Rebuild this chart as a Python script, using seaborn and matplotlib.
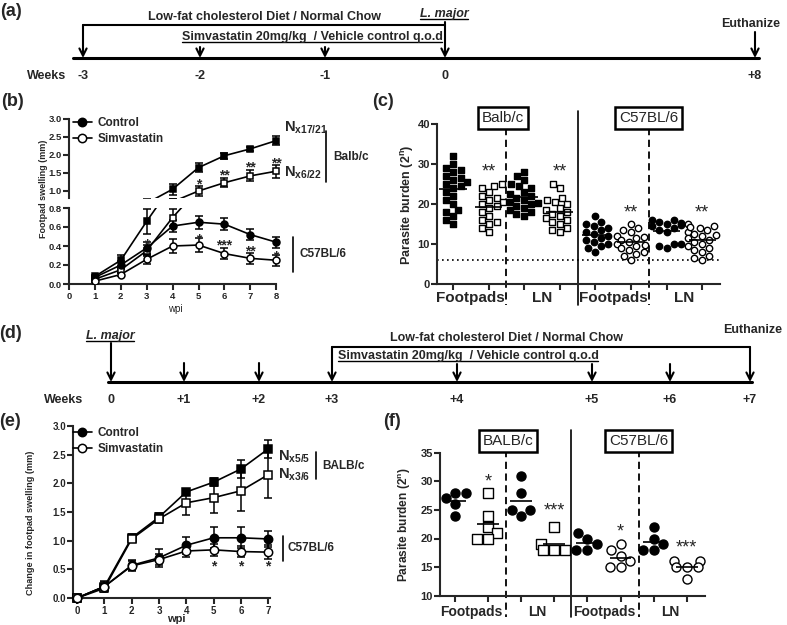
import matplotlib
matplotlib.use("Agg")
import matplotlib.pyplot as plt
from matplotlib.lines import Line2D
import seaborn as sns
import numpy as np
import pandas as pd

# ---- panel (b): footpad swelling, pre-treated ----
b_wpi = [1, 2, 3, 4, 5, 6, 7, 8]
b_balb_ctrl = [0.08, 0.25, 0.66, 1.05, 1.65, 1.98, 2.17, 2.40]
b_balb_ctrl_err = [0.02, 0.06, 0.13, 0.15, 0.12, 0.08, 0.06, 0.12]
b_balb_simva = [0.05, 0.15, 0.35, 0.70, 1.00, 1.23, 1.42, 1.55]
b_balb_simva_err = [0.01, 0.03, 0.06, 0.09, 0.14, 0.13, 0.15, 0.18]
b_c57_ctrl = [0.07, 0.20, 0.38, 0.61, 0.65, 0.63, 0.52, 0.44]
b_c57_ctrl_err = [0.01, 0.04, 0.06, 0.06, 0.07, 0.06, 0.06, 0.06]
b_c57_simva = [0.03, 0.10, 0.26, 0.40, 0.41, 0.32, 0.27, 0.25]
b_c57_simva_err = [0.01, 0.02, 0.05, 0.07, 0.07, 0.06, 0.06, 0.06]

# ---- panel (c): parasite burden, pre-treated ----
c_balb_fp_ctrl = [32, 30, 29, 28.5, 28, 27, 26.5, 26, 25.5, 25, 24.5, 24, 23, 22, 21, 20, 18.5, 18, 17, 16, 15]
c_balb_fp_simva = [25, 24.5, 24, 23, 22, 21.5, 21, 20.5, 20, 19.5, 19, 18, 17, 16, 15.5, 15, 14, 13]
c_balb_ln_ctrl = [28, 27, 26, 25, 24.5, 24, 23, 22.5, 22, 21.5, 21, 20.5, 20, 19.5, 19, 18.5, 18, 17.5, 17, 20.2]
c_balb_ln_simva = [25, 24, 21.5, 21, 20.5, 20, 19, 18.5, 18, 17.5, 17, 16.5, 16, 15.5, 15, 14, 13.5, 13]
c_c57_fp_ctrl = [17, 15.5, 15, 14.5, 14, 13.5, 13, 12.5, 12, 11, 10.5, 10, 9.5, 9, 8, 11.5]
c_c57_fp_simva = [15, 14, 13.5, 13, 12, 11.5, 11, 10.5, 10, 9.8, 9.5, 9, 8.5, 8, 7.5, 7, 6, 11.8]
c_c57_ln_ctrl = [16, 16, 15.5, 15, 14.8, 14.5, 14, 13.5, 13, 10, 10, 9.5, 9, 15.2]
c_c57_ln_simva = [15, 14.5, 14, 13.5, 13, 12.5, 12, 11.5, 11, 10.5, 10, 9.5, 9, 8.5, 8, 7, 6.5, 6, 14.2, 12.2]
c_stars = ["", "**", "", "**", "", "**", "", "**"]
c_star_y = [0, 28.0, 0, 28.0, 0, 17.8, 0, 17.8]

# ---- panel (e): footpad swelling, post-infection treatment ----
e_wpi = [0, 1, 2, 3, 4, 5, 6, 7]
e_balb_ctrl = [0, 0.20, 1.05, 1.41, 1.85, 2.02, 2.25, 2.60]
e_balb_ctrl_err = [0, 0.05, 0.06, 0.08, 0.04, 0.07, 0.15, 0.15]
e_balb_simva = [0, 0.17, 1.03, 1.38, 1.66, 1.75, 1.87, 2.15]
e_balb_simva_err = [0, 0.05, 0.05, 0.08, 0.22, 0.27, 0.35, 0.40]
e_c57_ctrl = [0, 0.20, 0.57, 0.70, 0.92, 1.05, 1.05, 1.03]
e_c57_ctrl_err = [0, 0.10, 0.10, 0.16, 0.15, 0.18, 0.18, 0.14]
e_c57_simva = [0, 0.20, 0.56, 0.67, 0.82, 0.84, 0.81, 0.80]
e_c57_simva_err = [0, 0.08, 0.08, 0.10, 0.10, 0.10, 0.10, 0.12]

# ---- panel (f): parasite burden, post-infection treatment ----
f_balb_fp_ctrl = [28, 28, 27, 26, 24]
f_balb_fp_simva = [28, 24, 22, 21, 20, 20]
f_balb_ln_ctrl = [31, 28, 25, 25, 24]
f_balb_ln_simva = [22, 19, 18, 18, 18]
f_c57_fp_ctrl = [21, 20, 19, 18, 18]
f_c57_fp_simva = [19, 18, 17, 16, 15, 15]
f_c57_ln_ctrl = [22, 20, 19, 18, 18]
f_c57_ln_simva = [16, 16, 15, 15, 15, 13]
f_stars = ["", "*", "", "***", "", "*", "", "***"]
f_star_y = [0, 29.8, 0, 24.8, 0, 21.2, 0, 18.3]

group_names = ["BFP-C", "BFP-S", "BLN-C", "BLN-S", "CFP-C", "CFP-S", "CLN-C", "CLN-S"]
site_labels = ["Footpads", "LN", "Footpads", "LN"]

# ---- timelines ----
a_weeks = ["-3", "-2", "-1", "0", "+8"]
d_weeks = ["0", "+1", "+2", "+3", "+4", "+5", "+6", "+7"]

W, H = 787, 625
sns.set_style("ticks")
plt.rcParams["font.family"] = ["Liberation Sans", "DejaVu Sans"]
plt.rcParams["mathtext.fontset"] = "custom"
plt.rcParams["mathtext.rm"] = "Liberation Sans"
plt.rcParams["mathtext.bf"] = "Liberation Sans:bold"
plt.rcParams["axes.linewidth"] = 1.5
plt.rcParams["xtick.major.width"] = 1.5
plt.rcParams["ytick.major.width"] = 1.5
plt.rcParams["xtick.major.size"] = 4
plt.rcParams["ytick.major.size"] = 4
plt.rcParams["xtick.major.pad"] = 1.5
plt.rcParams["ytick.major.pad"] = 1
plt.rcParams["axes.unicode_minus"] = False

fig = plt.figure(figsize=(W / 100, H / 100), dpi=100)
NARROW = ["Liberation Sans Narrow", "Liberation Sans"]


def px_axes(x0, y0, x1, y1):
    return fig.add_axes([x0 / W, 1 - y1 / H, (x1 - x0) / W, (y1 - y0) / H])


def bold_ticks(ax, size):
    ax.tick_params(labelsize=size)
    for lbl in ax.get_xticklabels() + ax.get_yticklabels():
        lbl.set_fontweight("bold")


def swelling(ax, x, y, err, marker, filled, ms, clip=True):
    fc = "black" if filled else "white"
    eb = ax.errorbar(x, y, yerr=err, fmt="none", ecolor="black", elinewidth=1.1,
                     capsize=3, capthick=1.1, zorder=2)
    for art in eb.lines[1] + eb.lines[2]:
        art.set_clip_on(clip)
    sns.lineplot(x=x, y=y, ax=ax, color="black", lw=1.2, marker=marker, markersize=ms,
                 markerfacecolor=fc, markeredgecolor="black", markeredgewidth=1.1,
                 legend=False, zorder=3, clip_on=clip)


def burden(ax, groups, markers, filled, size, half):
    rows = []
    for name, vals in zip(group_names, groups):
        rows += [(name, v) for v in vals]
    df = pd.DataFrame(rows, columns=["group", "burden"])
    for i, name in enumerate(group_names):
        sub = df[df["group"] == name]
        fc = "black" if filled[i] else "white"
        sns.swarmplot(data=sub, x="group", y="burden", order=group_names, ax=ax,
                      marker=markers[i], color=fc, edgecolor="black", linewidth=1,
                      size=size, warn_thresh=1)
        m = np.mean(groups[i])
        ax.hlines(m, i - half, i + half, color="black", lw=1.2, zorder=5)
    ax.set_xlabel("")
    ax.set_ylabel("")
    ax.set_xticks(range(8))
    ax.set_xticklabels([])


c_markers = ["s", "s", "s", "s", "o", "o", "o", "o"]
c_filled = [True, False, True, False, True, False, True, False]

# ---- (b) broken axis ----
b_up = px_axes(69, 119, 69 + 8.3 * 25.9, 198.2)
b_lo = px_axes(69, 208, 69 + 8.3 * 25.9, 284)
series_b = [(b_balb_ctrl, b_balb_ctrl_err, "s", True), (b_balb_simva, b_balb_simva_err, "s", False),
            (b_c57_ctrl, b_c57_ctrl_err, "o", True), (b_c57_simva, b_c57_simva_err, "o", False)]
for ax in (b_up, b_lo):
    for y, e, mk, fl in series_b:
        swelling(ax, b_wpi, y, e, mk, fl, 5)
    ax.set_xlim(0, 8.3)
    ax.set_xlabel("")
    ax.set_ylabel("")
    sns.despine(ax=ax)
b_up.set_ylim(0.8, 3.0)
b_up.set_yticks([1.0, 1.5, 2.0, 2.5, 3.0])
b_up.spines["bottom"].set_visible(False)
b_up.tick_params(axis="x", bottom=False, labelbottom=False)
b_lo.set_ylim(0, 0.8)
b_lo.set_yticks([0.0, 0.2, 0.4, 0.6, 0.8])
b_lo.set_xticks(range(9))
b_lo.spines["bottom"].set_bounds(0, 8)
for ax in (b_up, b_lo):
    ax.yaxis.set_major_formatter(matplotlib.ticker.FormatStrFormatter("%.1f"))
    bold_ticks(ax, 6.8)
star_kw = dict(ha="center", va="center", fontsize=10, fontweight="bold")
for xx, yy, s in [(3, 0.42, "*"), (5, 0.47, "*"), (6, 0.41, "***"), (7, 0.34, "**"), (8, 0.29, "*")]:
    b_lo.text(xx, yy, s, **star_kw)
for xx, yy, s in [(5, 1.18, "*"), (6, 1.42, "**"), (7, 1.64, "**"), (8, 1.77, "**")]:
    b_up.text(xx, yy, s, **star_kw)

# ---- (c) ----
ax_c = px_axes(437, 124, 720, 284)
burden(ax_c, [c_balb_fp_ctrl, c_balb_fp_simva, c_balb_ln_ctrl, c_balb_ln_simva,
              c_c57_fp_ctrl, c_c57_fp_simva, c_c57_ln_ctrl, c_c57_ln_simva],
       c_markers, c_filled, 4.6, 0.38)
ax_c.set_xlim(-0.45, 7.5)
ax_c.set_ylim(0, 40)
ax_c.set_yticks([0, 10, 20, 30, 40])
sns.despine(ax=ax_c)
bold_ticks(ax_c, 8)
ax_c.axhline(6, color="black", lw=1.2, ls=(0, (1, 2)), zorder=1)
ax_c.plot([1.5, 1.5], [39, -5.3], color="black", lw=1.3, ls=(0, (4, 2.5)), clip_on=False)
ax_c.plot([5.5, 5.5], [39, -5.3], color="black", lw=1.3, ls=(0, (4, 2.5)), clip_on=False)
ax_c.plot([3.5, 3.5], [43.3, -5.3], color="black", lw=1.2, clip_on=False)
box = dict(boxstyle="square,pad=0.25", fc="white", ec="black", lw=1.8)
ax_c.text(1.4, 41.5, "Balb/c", ha="center", va="center", fontsize=11, bbox=box, clip_on=False)
ax_c.text(5.5, 41.5, "C57BL/6", ha="center", va="center", fontsize=11, bbox=box, clip_on=False)
for i, lab in enumerate(site_labels):
    ax_c.text(2 * i + 0.5, -3.6, lab, ha="center", va="center", fontsize=11,
              fontweight="bold", clip_on=False)
for i, s in enumerate(c_stars):
    if s:
        ax_c.text(i, c_star_y[i], s, ha="center", va="center", fontsize=13)

# ---- (e) ----
ax_e = px_axes(73, 426, 73 + 7.55 * 27.3, 598)
for y, e, mk, fl in [(e_balb_ctrl, e_balb_ctrl_err, "s", True), (e_balb_simva, e_balb_simva_err, "s", False),
                     (e_c57_ctrl, e_c57_ctrl_err, "o", True), (e_c57_simva, e_c57_simva_err, "o", False)]:
    swelling(ax_e, e_wpi, y, e, mk, fl, 6, clip=False)
ax_e.set_xlim(-0.15, 7.4)
ax_e.set_ylim(0, 3.0)
ax_e.set_xticks(range(8))
ax_e.set_yticks([0.0, 0.5, 1.0, 1.5, 2.0, 2.5, 3.0])
ax_e.yaxis.set_major_formatter(matplotlib.ticker.FormatStrFormatter("%.1f"))
sns.despine(ax=ax_e)
ax_e.spines["bottom"].set_bounds(-0.15, 7.05)
ax_e.set_ylabel("")
ax_e.set_xlabel("wpi", fontsize=8, fontweight="bold", labelpad=-1)
bold_ticks(ax_e, 7)
for xx in (5, 6, 7):
    ax_e.text(xx, 0.55, "*", **star_kw)

# ---- (f) ----
ax_f = px_axes(440, 452.7, 705, 595.7)
burden(ax_f, [f_balb_fp_ctrl, f_balb_fp_simva, f_balb_ln_ctrl, f_balb_ln_simva,
              f_c57_fp_ctrl, f_c57_fp_simva, f_c57_ln_ctrl, f_c57_ln_simva],
       ["o", "s", "o", "s", "o", "o", "o", "o"], c_filled, 6.5, 0.33)
ax_f.set_xlim(-0.45, 7.55)
ax_f.set_ylim(10, 35)
ax_f.set_yticks([10, 15, 20, 25, 30, 35])
sns.despine(ax=ax_f)
bold_ticks(ax_f, 8)
ax_f.plot([1.55, 1.55], [35.5, 6.3], color="black", lw=1.3, ls=(0, (4, 2.5)), clip_on=False)
ax_f.plot([5.55, 5.55], [35.5, 6.3], color="black", lw=1.3, ls=(0, (4, 2.5)), clip_on=False)
ax_f.plot([3.5, 3.5], [39, 6.3], color="black", lw=1.2, clip_on=False)
ax_f.text(1.6, 37.0, "BALB/c", ha="center", va="center", fontsize=11, bbox=box, clip_on=False)
ax_f.text(5.55, 37.0, "C57BL/6", ha="center", va="center", fontsize=11, bbox=box, clip_on=False)
for i, lab in enumerate(site_labels):
    ax_f.text(2 * i + 0.5, 7.2, lab, ha="center", va="center", fontsize=10,
              fontweight="bold", clip_on=False)
for i, s in enumerate(f_stars):
    if s:
        ax_f.text(i, f_star_y[i], s, ha="center", va="center", fontsize=13)

# ---- overlay in pixel coords: timelines, labels, annotations ----
ov = fig.add_axes([0, 0, 1, 1])
ov.set_xlim(0, W)
ov.set_ylim(H, 0)
ov.axis("off")
ov.patch.set_alpha(0)

arr = dict(arrowstyle="->", lw=1.5, color="black", mutation_scale=13, shrinkA=0, shrinkB=0)
tl_kw = dict(fontsize=9, family=NARROW, ha="center", va="center")
under = []

# timeline (a)
a_x = [83, 200, 325, 445, 755]
a_top = [25, 47, 47, 22, 32]
ov.plot([73, 759], [58, 58], color="black", lw=2.2)
ov.plot([83, 445], [25, 25], color="black", lw=1.5)
for xx, tp, wk in zip(a_x, a_top, a_weeks):
    ov.annotate("", xy=(xx, 58), xytext=(xx, tp), arrowprops=arr)
    ov.text(xx, 76, wk, fontweight="bold", **tl_kw)
ov.text(47, 76, "Weeks", fontweight="bold", **tl_kw)
ov.text(264, 17, "Low-fat cholesterol Diet / Normal Chow", fontweight="bold", **tl_kw)
ov.text(751, 24, "Euthanize", fontweight="bold", **tl_kw)
under.append(ov.text(444, 14, "L. major", fontweight="bold", style="italic", **tl_kw))
under.append(ov.text(312, 37, "Simvastatin 20mg/kg  / Vehicle control q.o.d", fontweight="bold", **tl_kw))

# timeline (d)
d_x = [111, 184, 259, 332, 457, 592, 670, 750]
d_top = [343, 363, 363, 347, 364, 364, 364, 347]
ov.plot([108, 752], [382, 382], color="black", lw=2.2)
ov.plot([332, 750], [347, 347], color="black", lw=1.5)
for xx, tp, wk in zip(d_x, d_top, d_weeks):
    ov.annotate("", xy=(xx, 382), xytext=(xx, tp), arrowprops=arr)
    ov.text(xx, 400, wk, fontweight="bold", **tl_kw)
ov.text(64, 400, "Weeks", fontweight="bold", **tl_kw)
ov.text(506, 338, "Low-fat cholesterol Diet / Normal Chow", fontweight="bold", **tl_kw)
ov.text(753, 330, "Euthanize", fontweight="bold", **tl_kw)
under.append(ov.text(110, 336, "L. major", fontweight="bold", style="italic", **tl_kw))
under.append(ov.text(468, 356, "Simvastatin 20mg/kg  / Vehicle control q.o.d", fontweight="bold", **tl_kw))

# panel letters
for lab, xx, yy in [("(a)", 11, 12), ("(b)", 12, 101), ("(c)", 383, 101),
                    ("(d)", 10, 333), ("(e)", 10, 421), ("(f)", 392, 421)]:
    ov.text(xx, yy, lab, fontsize=13, fontweight="bold", ha="center", va="center", family=NARROW)

# y labels
ov.text(43, 189, "Footpad swelling (mm)", rotation=90, fontsize=6.5, fontweight="bold", ha="center", va="center")
ov.text(407, 205, "Parasite burden (2$^\\mathbf{n}$)", rotation=90, fontsize=9, fontweight="bold", ha="center", va="center")
ov.text(31, 523, "Change in footpad swelling (mm)", rotation=90, fontsize=6.6, fontweight="bold", ha="center", va="center")
ov.text(405, 525, "Parasite burden (2$^\\mathbf{n}$)", rotation=90, fontsize=8.6, fontweight="bold", ha="center", va="center")
ov.text(175, 309, "wpi", fontsize=7, ha="center", va="center")

# group brackets (b)
ann = dict(fontsize=8.5, fontweight="bold", ha="left", va="center")
ov.text(284, 128, r"$\mathbf{N_{x17/21}}$", fontsize=10.5, ha="left", va="center")
ov.text(284, 173, r"$\mathbf{N_{x6/22}}$", fontsize=10.5, ha="left", va="center")
ov.plot([326, 326], [131, 182], color="black", lw=1.2)
ov.text(333, 157, "Balb/c", **ann)
ov.plot([293, 293], [237, 272], color="black", lw=1.2)
ov.text(300, 254, "C57BL/6", **ann)

# group brackets (e)
ov.text(278, 457, r"$\mathbf{N_{x5/5}}$", fontsize=10.5, ha="left", va="center")
ov.text(278, 475, r"$\mathbf{N_{x3/6}}$", fontsize=10.5, ha="left", va="center")
ov.plot([316, 316], [452, 479], color="black", lw=1.2)
ov.text(322, 466, "BALB/c", **ann)
ov.plot([283, 283], [536, 561], color="black", lw=1.2)
ov.text(288, 548, "C57BL/6", **ann)

# legends
handles = [Line2D([], [], color="black", lw=1.2, marker="o", markersize=6, markerfacecolor="black", markeredgewidth=1.1),
           Line2D([], [], color="black", lw=1.2, marker="o", markersize=6, markerfacecolor="white", markeredgewidth=1.1)]
for top in (117, 427):
    fig.legend(handles, ["Control", "Simvastatin"], loc="upper left",
               bbox_to_anchor=(73 / W, 1 - top / H), frameon=False, handlelength=1.6,
               handletextpad=0.5, labelspacing=0.35, borderaxespad=0, borderpad=0,
               prop={"weight": "bold", "size": 8.5})

# underline the timeline labels
fig.canvas.draw()
rend = fig.canvas.get_renderer()
inv = ov.transData.inverted()
for t in under:
    bb = t.get_window_extent(renderer=rend)
    (x0, yb), (x1, _) = inv.transform([[bb.x0, bb.y0], [bb.x1, bb.y1]])
    ov.plot([x0, x1], [yb - 1, yb - 1], color="black", lw=1)

fig.savefig("out.png", dpi=100)
